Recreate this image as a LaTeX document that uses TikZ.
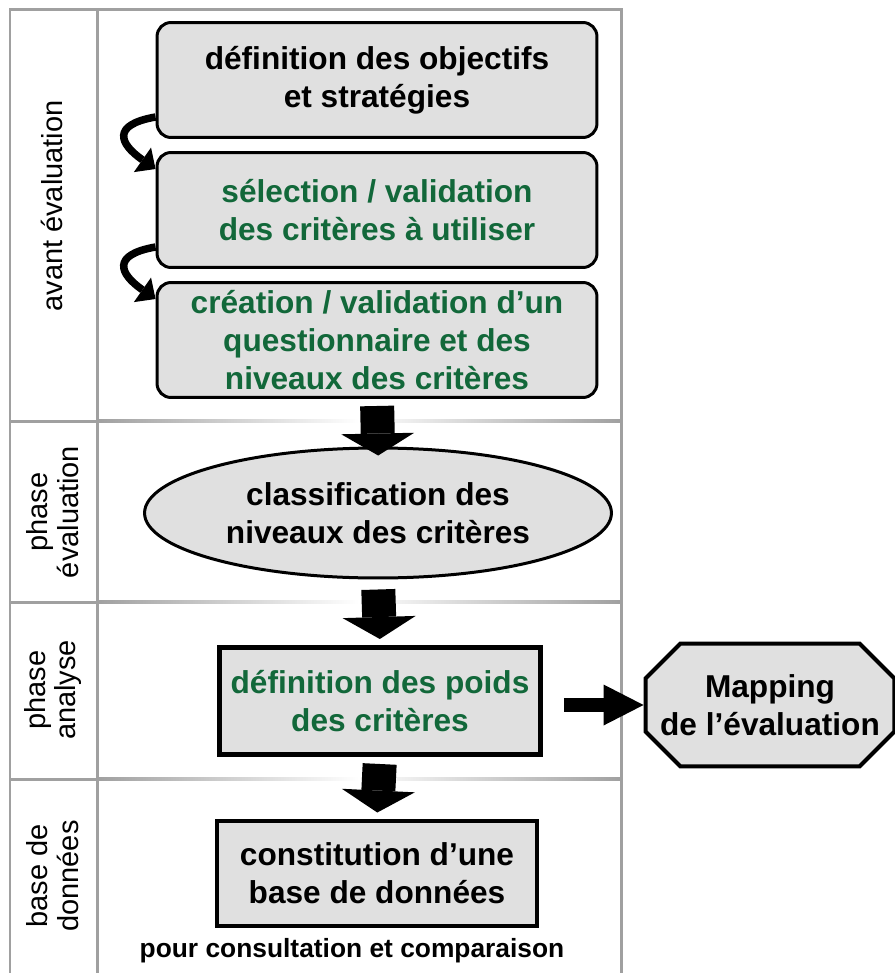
\documentclass[tikz,border=0pt]{standalone}
\usepackage{fontspec}
\setmainfont{Liberation Sans}
\usetikzlibrary{arrows.meta,shapes.geometric,backgrounds,calc}
\definecolor{framegray}{HTML}{A0A0A0}
\definecolor{boxgray}{HTML}{E0E0E0}
\definecolor{critgreen}{HTML}{12683A}

\begin{document}
\begin{tikzpicture}[x=0.02cm,y=-0.02cm,
    box/.style={draw,fill=boxgray,line width=0.06cm,align=center,inner sep=0pt,
      font=\fontsize{18}{21.6}\selectfont\bfseries},
    rbox/.style={box,rounded corners=0.28cm,minimum width=8.8cm,minimum height=2.3cm},
    lbl/.style={rotate=90,align=center,font=\fontsize{16.5}{17.6}\selectfont},
    bigarrow/.style={line width=0.68cm,-{Triangle[length=0.44cm,width=1.46cm,line width=0pt]}},
    bendarrow/.style={line width=0.15cm,-{Triangle[length=0.32cm,width=0.6cm,line width=0pt]}},
    divider/.style={left color=framegray,right color=framegray,middle color=white}]
    \useasboundingbox (0,0) rectangle (894,973);

    % frame
    \draw[framegray,line width=0.06cm] (10,973) -- (10,10) -- (621,10) -- (621,973);
    \draw[framegray,line width=0.06cm] (97,10) -- (97,973);
    \foreach \y in {421,602,779} {
      \fill[framegray] (10,\y-1.5) rectangle (97,\y+1.5);
      \shade[divider] (97,\y-1.5) rectangle (621,\y+1.5);
    }

    \node[lbl] (P1) at (52,206) {avant évaluation};
    \node[lbl] (P2) at (53,512) {phase\\évaluation};
    \node[lbl] (P3) at (53,690) {phase\\analyse};
    \node[lbl] (P4) at (53,876) {base de\\données};

    \node[rbox] (A) at (377,80) {définition des objectifs\\et stratégies};
    \node[rbox,text=critgreen] (B) at (377,210) {sélection / validation\\des critères à utiliser};
    \node[rbox,text=critgreen] (C) at (377,340) {création / validation d’un\\questionnaire et des\\niveaux des critères};
    \node[box,ellipse,minimum width=9.34cm,minimum height=2.6cm] (D) at (378,513) {classification des\\niveaux des critères};
    \node[box,text=critgreen,line width=0.1cm,minimum width=6.42cm,minimum height=2.14cm] (E) at (380,701) {définition des poids\\des critères};
    \node[box,draw=none,fill=none,minimum width=4.92cm,minimum height=2.4cm] (F) at (770,705) {Mapping\\de l’évaluation};
    \node[box,line width=0.08cm,minimum width=6.4cm,minimum height=2.1cm] (G) at (377,873) {constitution d’une\\base de données};
    \node[anchor=base,font=\fontsize{15}{18}\selectfont\bfseries] (N) at (352,957) {pour consultation et comparaison};

    \begin{scope}[on background layer]
      \draw[fill=boxgray,line width=0.08cm] ([xshift=0.7cm]F.north west) -- ([xshift=-0.7cm]F.north east)
        -- ([yshift=-0.7cm]F.north east) -- ([yshift=0.7cm]F.south east) -- ([xshift=-0.7cm]F.south east)
        -- ([xshift=0.7cm]F.south west) -- ([yshift=0.7cm]F.south west) -- ([yshift=-0.7cm]F.north west) -- cycle;
    \end{scope}

    \draw[bendarrow] ($(A.south west)+(0,-22)$) to[out=190,in=145,looseness=2.2] ($(B.north west)+(0,18)$);
    \draw[bendarrow] ($(B.south west)+(0,-22)$) to[out=190,in=145,looseness=2.2] ($(C.north west)+(0,18)$);

    \draw[bigarrow,shorten <=0.14cm,shorten >=-0.18cm] (C.south) -- (D.north);
    \draw[bigarrow,shorten <=0.2cm,shorten >=0.12cm] (D.south) -- (E.north);
    \draw[bigarrow,shorten <=0.14cm,shorten >=0.12cm] (E.south) -- (G.north);
    \draw[line width=0.28cm,-{Triangle[length=0.8cm,width=0.82cm,line width=0pt]},shorten <=0.42cm,shorten >=0.04cm] (E.east |- F.west) -- (F.west);
\end{tikzpicture}
\end{document}
